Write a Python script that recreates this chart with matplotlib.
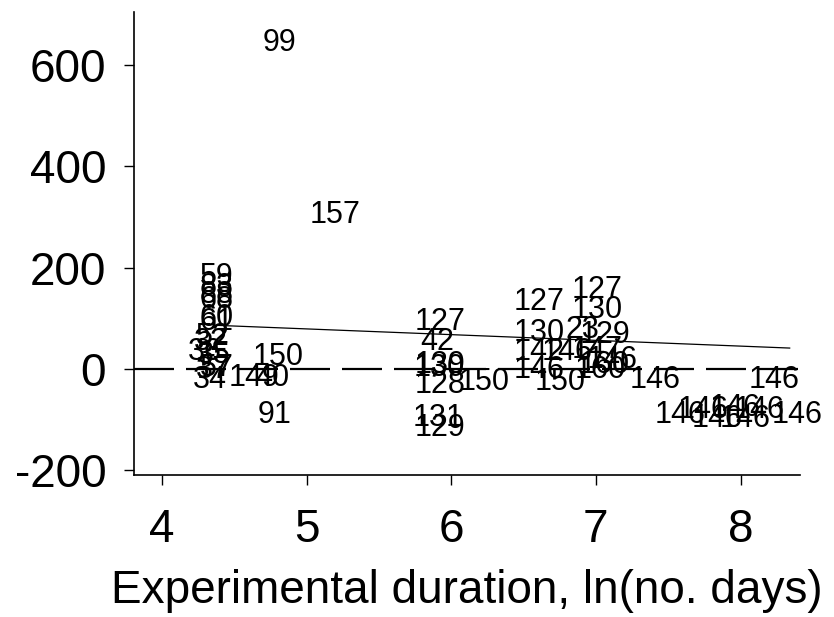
import matplotlib
matplotlib.use("Agg")
import matplotlib.pyplot as plt
import numpy as np

plt.rcParams['font.family'] = ['Liberation Sans', 'DejaVu Sans']

# study labels, x = ln(days), y = effect
labels = ["59", "83", "88", "68", "60", "61", "52", "32", "36", "35", "57", "37", "34",
          "149", "40", "150", "91", "99", "157",
          "127", "42", "139", "130", "128", "150", "131", "129",
          "127", "127", "130", "130", "23", "129", "142", "146", "147", "146", "146",
          "150", "160", "160", "146",
          "146", "146", "146", "146", "146", "146", "146", "146"]
x_vals = [4.38, 4.38, 4.38, 4.38, 4.38, 4.38, 4.35, 4.34, 4.30, 4.36, 4.38, 4.35, 4.33,
          4.64, 4.76, 4.80, 4.78, 4.815, 5.20,
          5.92, 5.90, 5.92, 5.92, 5.92, 6.23, 5.91, 5.92,
          6.61, 7.01, 7.01, 6.61, 6.91, 7.06, 6.61, 6.80, 7.01, 7.11, 6.61,
          6.75, 7.06, 7.03, 7.41,
          8.23, 7.58, 7.74, 7.84, 7.96, 8.03, 8.13, 8.39]
y_vals = [181, 162, 146, 136, 100, 93, 63, 53, 33, 28, 2, -2, -22,
          -18, -18, 24, -91, 644, 303,
          93, 53, 8, 2, -32, -26, -97, -116,
          132, 156, 116, 71, 77, 67, 33, 33, 37, 18, -2,
          -26, 8, -2, -22,
          -22, -91, -81, -100, -77, -100, -81, -91]

# meta-regression fit line
fit_x = [4.37, 8.34]
fit_y = [86, 41]

xticks = [4, 5, 6, 7, 8]
yticks = [-200, 0, 200, 400, 600]

fig = plt.figure(figsize=(8.34, 6.17), dpi=100)
ax = fig.add_axes([0.1607, 0.230, 0.959 - 0.1607, 0.9805 - 0.230])
ax.set_xlim(3.807, 8.41)
ax.set_ylim(-210, 705)

ax.axhline(0, color='black', lw=1.6, dashes=(18, 5.4))
ax.plot(fit_x, fit_y, color='black', lw=0.9)

for t, xv, yv in zip(labels, x_vals, y_vals):
    ax.text(xv, yv, t, ha='center', va='center', fontsize=22, color='black')

for s in ['top', 'right']:
    ax.spines[s].set_visible(False)
ax.spines['left'].set_linewidth(1.2)
ax.spines['bottom'].set_linewidth(1.2)
ax.spines['left'].set_bounds(-210, 705)

ax.set_xticks(xticks)
ax.set_yticks(yticks)
ax.set_yticklabels([str(v) for v in yticks])
ax.tick_params(axis='y', labelsize=33, length=7, width=1.0, pad=13)
ax.tick_params(axis='x', labelsize=33, length=7, width=1.0, pad=17)
ax.set_xlabel("Experimental duration, ln(no. days)", fontsize=33, labelpad=12)

fig.savefig("out.png", dpi=100)
